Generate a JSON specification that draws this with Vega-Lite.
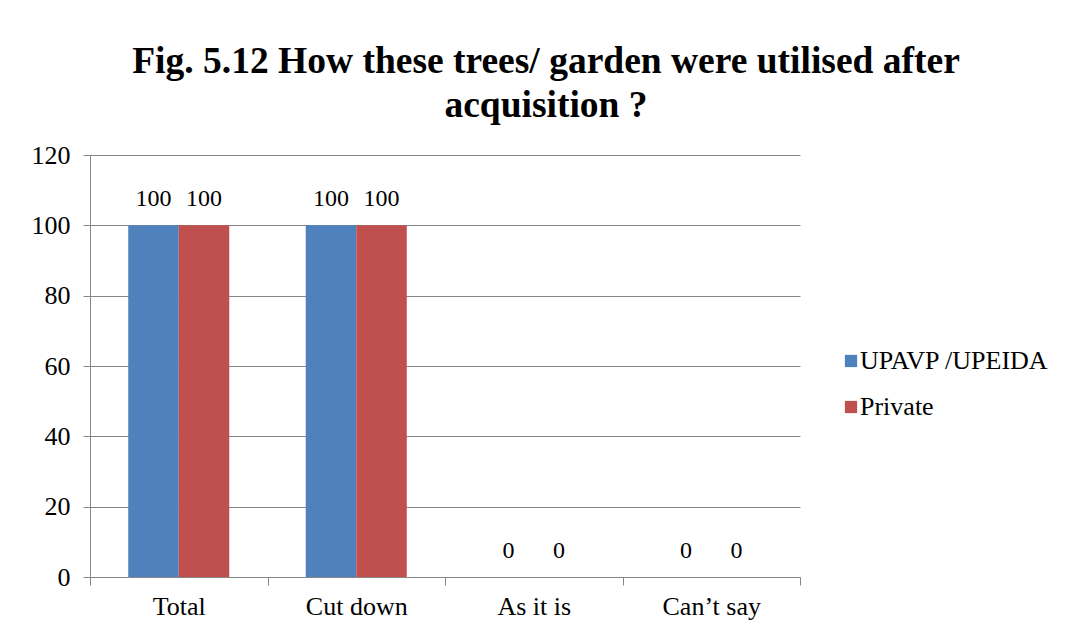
{
  "$schema": "https://vega.github.io/schema/vega-lite/v6.json",
  "width": 710,
  "height": 422,
  "autosize": {"type": "none"},
  "padding": {"left": 90, "top": 155, "right": 275, "bottom": 55},
  "background": "white",
  "title": {
    "text": ["Fig. 5.12 How these trees/ garden were utilised after", "acquisition ?"],
    "font": "Liberation Serif",
    "fontSize": 37.5,
    "fontWeight": "bold",
    "color": "black",
    "anchor": "middle",
    "dx": 101,
    "offset": 18,
    "lineHeight": 44
  },
  "data": {
    "values": [
      {"cat": "Total", "series": "UPAVP /UPEIDA", "value": 100},
      {"cat": "Total", "series": "Private", "value": 100},
      {"cat": "Cut down", "series": "UPAVP /UPEIDA", "value": 100},
      {"cat": "Cut down", "series": "Private", "value": 100},
      {"cat": "As it is", "series": "UPAVP /UPEIDA", "value": 0},
      {"cat": "As it is", "series": "Private", "value": 0},
      {"cat": "Can’t say", "series": "UPAVP /UPEIDA", "value": 0},
      {"cat": "Can’t say", "series": "Private", "value": 0}
    ]
  },
  "encoding": {
    "x": {
      "field": "cat",
      "type": "nominal",
      "sort": ["Total", "Cut down", "As it is", "Can’t say"],
      "scale": {"paddingInner": 0, "paddingOuter": 0},
      "axis": {
        "title": null,
        "labelAngle": 0,
        "tickBand": "extent",
        "tickSize": 8,
        "tickColor": "#868686",
        "domainColor": "#868686",
        "labelPadding": 8,
        "labelFont": "Liberation Serif",
        "labelFontSize": 26,
        "labelColor": "black",
        "grid": false
      }
    },
    "xOffset": {
      "field": "series",
      "type": "nominal",
      "sort": ["UPAVP /UPEIDA", "Private"],
      "scale": {"paddingInner": 0, "paddingOuter": 0.757}
    },
    "y": {
      "field": "value",
      "type": "quantitative",
      "scale": {"domain": [0, 120], "nice": false},
      "axis": {
        "title": null,
        "values": [0, 20, 40, 60, 80, 100, 120],
        "tickSize": 7,
        "tickColor": "#868686",
        "domainColor": "#868686",
        "gridColor": "#868686",
        "labelPadding": 13,
        "labelFont": "Liberation Serif",
        "labelFontSize": 26,
        "labelColor": "black"
      }
    }
  },
  "layer": [
    {
      "mark": {"type": "bar"},
      "encoding": {
        "color": {
          "field": "series",
          "type": "nominal",
          "sort": ["UPAVP /UPEIDA", "Private"],
          "scale": {"domain": ["UPAVP /UPEIDA", "Private"], "range": ["#4F81BD", "#C0504D"]},
          "legend": {
            "title": null,
            "orient": "none",
            "legendX": 748,
            "legendY": 193,
            "symbolType": "square",
            "symbolSize": 150,
            "symbolStrokeWidth": 0,
            "labelFont": "Liberation Serif",
            "labelFontSize": 26,
            "labelColor": "black",
            "labelOffset": -4,
            "rowPadding": 20,
            "labelLimit": 300
          }
        }
      }
    },
    {
      "mark": {"type": "text", "baseline": "bottom", "dy": -14, "font": "Liberation Serif", "fontSize": 24, "color": "black"},
      "encoding": {"text": {"field": "value", "type": "quantitative"}}
    }
  ],
  "config": {
    "view": {"stroke": null},
    "axis": {"gridWidth": 1, "domainWidth": 1, "tickWidth": 1}
  }
}
